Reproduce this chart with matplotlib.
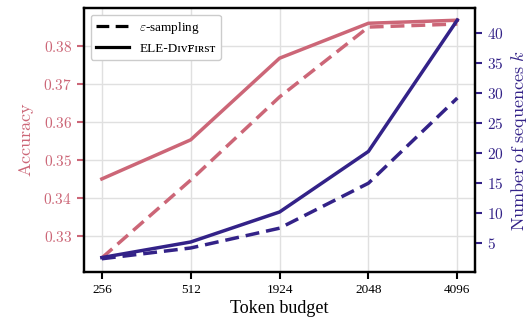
import matplotlib
matplotlib.use("Agg")
import matplotlib.pyplot as plt
from matplotlib.lines import Line2D

plt.rcParams['font.family'] = ['Liberation Serif', 'DejaVu Serif']
plt.rcParams['mathtext.fontset'] = 'cm'

budgets = ["256", "512", "1924", "2048", "4096"]
acc_eps = [0.3242, 0.3447, 0.3666, 0.3850, 0.3858]
acc_ele = [0.3450, 0.3553, 0.3768, 0.3860, 0.3868]
k_eps = [2.4, 4.2, 7.5, 15.0, 29.2]
k_ele = [2.6, 5.2, 10.2, 20.3, 42.2]
acc_ticks = [0.33, 0.34, 0.35, 0.36, 0.37, 0.38]
k_ticks = [5, 10, 15, 20, 25, 30, 35, 40]

pink = "#cc6677"
indigo = "#332288"
x = list(range(len(budgets)))

fig = plt.figure(figsize=(5.32, 3.23), dpi=100)
ax = fig.add_axes([0.158, 0.158, 0.735, 0.817])
ax2 = ax.twinx()

ax.plot(x, acc_eps, color=pink, lw=2.5, ls=(0, (4, 2)))
ax.plot(x, acc_ele, color=pink, lw=2.5)
ax2.plot(x, k_eps, color=indigo, lw=2.5, ls=(0, (4, 2)))
ax2.plot(x, k_ele, color=indigo, lw=2.5)

ax.set_xlim(-0.2, 4.2)
ax.set_ylim(0.3205, 0.390)
ax2.set_ylim(0.2, 44.2)

ax.set_xticks(x)
ax.set_xticklabels(budgets, fontsize=9.5)
ax.set_yticks(acc_ticks)
ax.set_yticklabels([f"${v:.2f}$" for v in acc_ticks], fontsize=11)
ax2.set_yticks(k_ticks)
ax2.set_yticklabels([f"${v}$" for v in k_ticks], fontsize=11)

ax.tick_params(axis='y', colors=pink, length=5, width=1.5, labelcolor=pink)
ax2.tick_params(axis='y', colors=indigo, length=5, width=1.5, labelcolor=indigo)
ax.tick_params(axis='x', length=5, width=1.5)

ax.grid(True, color="#e0e0e0", lw=1)
ax.set_axisbelow(True)

for a in (ax, ax2):
    for s in a.spines.values():
        s.set_linewidth(1.6)

ax.set_xlabel("Token budget", fontsize=13, labelpad=3)
ax.set_ylabel(r"$\mathrm{Accuracy}$", fontsize=13, color=pink, labelpad=5)
ax2.set_ylabel(r"$\mathrm{Number\ of\ sequences}\ k$", fontsize=13,
               color=indigo, labelpad=4)

handles = [Line2D([], [], color='black', lw=2.3, ls=(0, (4, 2))),
           Line2D([], [], color='black', lw=2.3)]
labels = [r"$\varepsilon$-sampling", "ELE-Dɪᴠꜰɪʀsᴛ"]
ax2.legend(handles, labels, loc='upper left', fontsize=9.5,
           handlelength=2.5, framealpha=1, edgecolor="#cccccc")

fig.savefig("out.png", dpi=100)
